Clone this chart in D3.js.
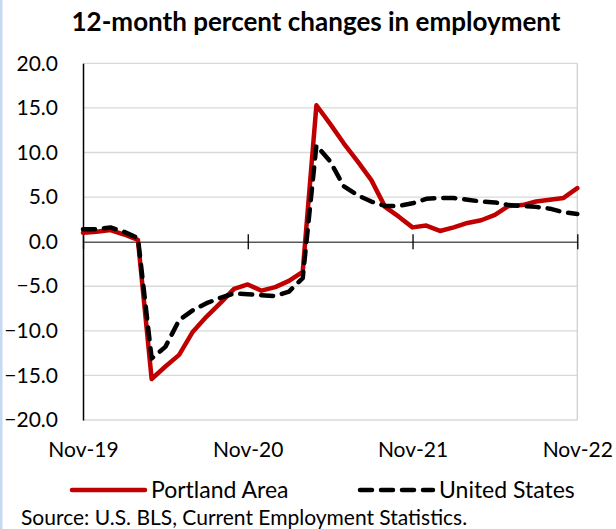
<!DOCTYPE html>
<html>
<head>
<meta charset="utf-8">
<script src="https://cdn.jsdelivr.net/npm/d3@7"></script>
<style>
  html, body { margin: 0; padding: 0; background: #fff; }
  svg { display: block; font-family: Lato, sans-serif; }
</style>
</head>
<body>
<svg id="chart"></svg>
<script>
// months from Nov-19 (0) to Nov-22 (36)
const xTicks = [0, 12, 24, 36]
const xTickLabels = ['Nov-19', 'Nov-20', 'Nov-21', 'Nov-22']
const yTicks = [-20, -15, -10, -5, 0, 5, 10, 15, 20]

const portland = [1.0, 1.1, 1.3, 0.8, 0.2, -15.4, -14.0, -12.7, -10.1, -8.4, -6.9, -5.3,
  -4.8, -5.5, -5.1, -4.4, -3.4, 15.3, 13.2, 11.0, 9.0, 6.9, 3.9, 2.8,
  1.6, 1.8, 1.2, 1.6, 2.1, 2.4, 3.0, 4.0, 4.1, 4.5, 4.7, 4.9, 6.0]
const unitedStates = [1.4, 1.4, 1.6, 1.1, 0.4, -13.1, -11.8, -8.8, -7.7, -6.9, -6.3, -5.8,
  -5.9, -6.0, -6.1, -5.6, -4.1, 10.8, 9.0, 6.2, 5.2, 4.5, 4.0, 4.0,
  4.3, 4.8, 4.9, 4.9, 4.7, 4.5, 4.4, 4.1, 4.0, 3.9, 3.7, 3.3, 3.1]

const series = [
  {name: 'Portland Area', values: portland, color: '#c00000', dash: null},
  {name: 'United States', values: unitedStates, color: '#000', dash: '12,9'}
]

const width = 616
const height = 529

const svg = d3.select('#chart')
  .attr('width', width)
  .attr('height', height)

// light blue strip at the left edge
svg.append('rect')
  .attr('x', 0).attr('y', 0)
  .attr('width', 2.5).attr('height', height)
  .attr('fill', '#c6d9f1')

// title
svg.append('text')
  .attr('x', 316)
  .attr('y', 31)
  .attr('text-anchor', 'middle')
  .style('font-size', '26px')
  .style('font-weight', 'bold')
  .text('12-month percent changes in employment')

const x = d3.scaleLinear().domain([0, 36]).range([83, 577.3])
const y = d3.scaleLinear().domain([-20, 20]).range([420, 63.3])

// gridlines
svg.append('g')
  .selectAll('line')
  .data(yTicks.filter(d => d !== 0))
  .enter()
  .append('line')
  .attr('x1', x(0)).attr('x2', x(36))
  .attr('y1', d => y(d)).attr('y2', d => y(d))
  .attr('stroke', '#d9d9d9')
  .attr('stroke-width', 1.3)

// right border of plot area
svg.append('line')
  .attr('x1', x(36)).attr('x2', x(36))
  .attr('y1', y(20)).attr('y2', y(-20))
  .attr('stroke', '#d0d0d0')
  .attr('stroke-width', 1.3)

// y axis
const yAxis = svg.append('g')
  .attr('transform', `translate(${x(0)},0)`)
  .call(d3.axisLeft(y).tickValues(yTicks).tickSize(0).tickPadding(25).tickFormat(d3.format('.1f')))
yAxis.select('.domain').attr('stroke', '#000').attr('stroke-width', 1.5)
yAxis.selectAll('text')
  .style('font-family', 'Lato, sans-serif')
  .style('font-size', '21px')
  .attr('fill', '#000')

// zero line with crossing ticks
const zeroAxis = svg.append('g')
  .attr('transform', `translate(0,${y(0)})`)
  .call(d3.axisBottom(x).tickValues(xTicks).tickSize(0).tickFormat(''))
zeroAxis.select('.domain').attr('stroke', '#595959').attr('stroke-width', 1.5)
zeroAxis.selectAll('.tick line')
  .attr('y1', -7.5).attr('y2', 7.5)
  .attr('stroke', '#000').attr('stroke-width', 1.3)

// x labels at the bottom
const xAxis = svg.append('g')
  .attr('transform', `translate(0,${y(-20)})`)
  .call(d3.axisBottom(x).tickValues(xTicks).tickSize(0).tickPadding(22)
    .tickFormat((d, i) => xTickLabels[i]))
xAxis.select('.domain').remove()
xAxis.selectAll('text')
  .style('font-family', 'Lato, sans-serif')
  .style('font-size', '21px')
  .attr('fill', '#000')

// lines
const line = d3.line()
  .x((d, i) => x(i))
  .y(d => y(d))

svg.selectAll('.series')
  .data(series)
  .enter()
  .append('path')
  .attr('class', 'series')
  .attr('d', s => line(s.values))
  .attr('fill', 'none')
  .attr('stroke', s => s.color)
  .attr('stroke-width', 4.5)
  .attr('stroke-linejoin', 'round')
  .attr('stroke-linecap', 'round')
  .attr('stroke-dasharray', s => s.dash)

// legend
const legendX = [72, 360]
const legend = svg.selectAll('.legend')
  .data(series)
  .enter()
  .append('g')
  .attr('class', 'legend')
  .attr('transform', (s, i) => `translate(${legendX[i]},490)`)
legend.append('line')
  .attr('x1', 0).attr('x2', 73)
  .attr('stroke', s => s.color)
  .attr('stroke-width', 4.5)
  .attr('stroke-linecap', 'round')
  .attr('stroke-dasharray', s => s.dash)
legend.append('text')
  .attr('x', 79)
  .attr('y', 8)
  .style('font-size', '23px')
  .text(s => s.name)

// source
svg.append('text')
  .attr('x', 21)
  .attr('y', 525)
  .style('font-size', '21px')
  .text('Source: U.S. BLS, Current Employment Statistics.')
</script>
</body>
</html>
